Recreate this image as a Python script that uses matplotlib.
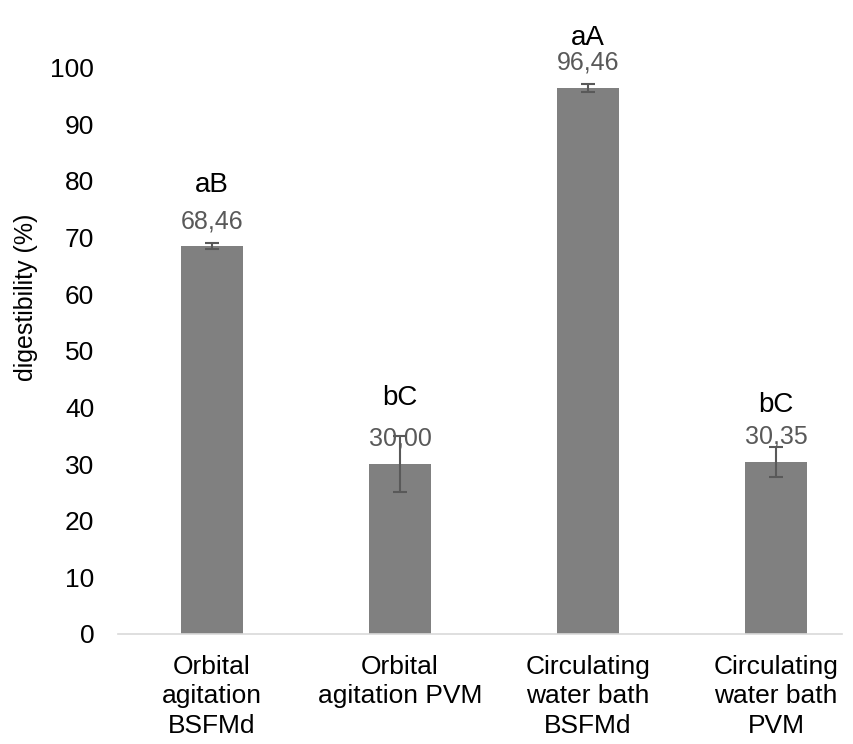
import numpy as np
import matplotlib.pyplot as plt

plt.rcParams['font.family'] = ['Liberation Sans', 'DejaVu Sans']

categories = ["Orbital\nagitation\nBSFMd", "Orbital\nagitation PVM",
              "Circulating\nwater bath\nBSFMd", "Circulating\nwater bath\nPVM"]
digestibility = [68.46, 30.00, 96.46, 30.35]
errors = [0.5, 5.0, 0.7, 2.6]
value_labels = ["68,46", "30,00", "96,46", "30,35"]
letters = ["aB", "bC", "aA", "bC"]

# baseline of the letter labels above the bar top (points), as placed in the original
letter_offset = [39, 42.5, 30.5, 36]

fig = plt.figure(figsize=(8.54, 7.44), dpi=100)
ax = fig.add_axes([0.138, 0.148, 0.848, 0.761])

x = np.arange(len(categories))
ax.bar(x, digestibility, width=0.33, color="#808080", zorder=2)
ax.errorbar(x, digestibility, yerr=errors, fmt="none", ecolor="#595959",
            elinewidth=1.5, capsize=5, capthick=1.5, zorder=3)

for i in range(len(x)):
    ax.annotate(value_labels[i], (x[i], digestibility[i]), xytext=(0, 13),
                textcoords="offset points", ha="center", va="baseline",
                fontsize=18, color="#595959", annotation_clip=False)
    ax.annotate(letters[i], (x[i], digestibility[i]), xytext=(0, letter_offset[i]),
                textcoords="offset points", ha="center", va="baseline",
                fontsize=20, color="black", annotation_clip=False)

ax.set_xlim(-0.5, 3.35)
ax.set_ylim(0, 100)
ax.set_yticks(np.arange(0, 101, 10))
ax.set_xticks(x)
ax.set_xticklabels(categories, fontsize=19, linespacing=1.3)
ax.tick_params(axis="y", labelsize=19, length=0, pad=17)
ax.tick_params(axis="x", length=0, pad=15)
fig.text(26 / 854, 0.6, "digestibility (%)", rotation=90, ha="center",
         va="center", fontsize=18)

for s in ["top", "right", "left"]:
    ax.spines[s].set_visible(False)
ax.spines["bottom"].set_color("#d9d9d9")
ax.spines["bottom"].set_linewidth(1.2)

fig.savefig("out.png", dpi=100)
